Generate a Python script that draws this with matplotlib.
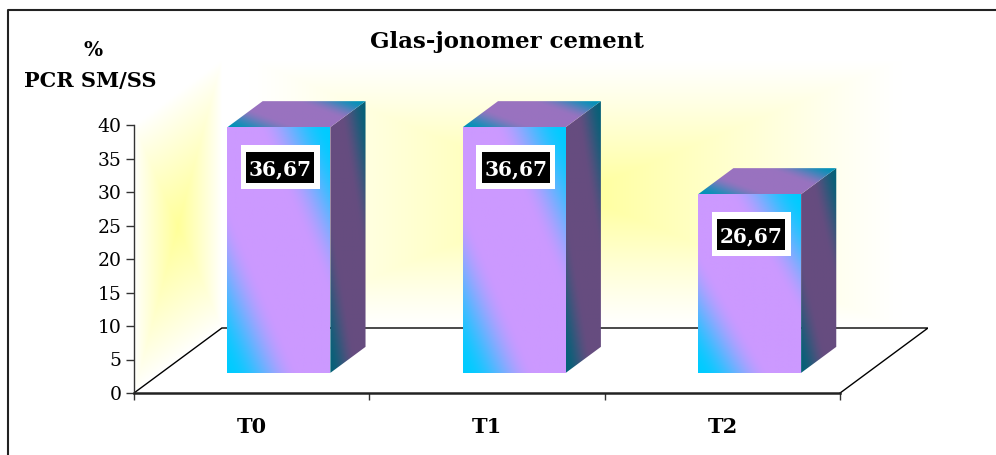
import numpy as np
import matplotlib
matplotlib.use("Agg")
import matplotlib.pyplot as plt
from matplotlib.patches import Polygon, Rectangle
from matplotlib.lines import Line2D
from matplotlib.colors import to_rgb

# ---- data ----
categories = ["T0", "T1", "T2"]
values = [36.67, 36.67, 26.67]
y_ticks = [0, 5, 10, 15, 20, 25, 30, 35, 40]
title = "Glas-jonomer cement"
y_label_top = "%"
y_label = "PCR SM/SS"

SERIF = ["DejaVu Serif"]

# ---- 3D geometry (in data units) ----
PX_X = 707 / 3.0      # pixels per category
PX_Y = 268 / 40.0     # pixels per value unit
DX = 88 / PX_X        # floor depth, horizontal component
DY = 65 / PX_Y        # floor depth, vertical component
W = 103 / PX_X        # bar width
F1, F2 = 0.31, 0.71   # bar front / back depth fractions
WALL_H = 40.0

CYAN = np.array(to_rgb("#00CCFF"))
LAV = np.array(to_rgb("#CC99FF"))
YELLOW = np.array(to_rgb("#FFFF99"))
WHITE = np.ones(3)


def diag_mix(s, t, edge, mid):
    d = np.abs(s + t - 1.0)
    g = np.clip((d - 0.3) / 0.68, 0, 1)
    g = g * g * (3 - 2 * g)
    return mid[None, None, :] * (1 - g[..., None]) + edge[None, None, :] * g[..., None]


def grid(x0, x1, y0, y1, n=220):
    xs = np.linspace(x0, x1, n)
    ys = np.linspace(y0, y1, n)
    return np.meshgrid(xs, ys)


def put_image(ax, img, extent, poly, z):
    im = ax.imshow(img, extent=extent, origin="lower", aspect="auto",
                   interpolation="bilinear", zorder=z)
    clip = Polygon(poly, closed=True, transform=ax.transData)
    im.set_clip_path(clip)
    return im


fig = plt.figure(figsize=(9.96, 4.55), dpi=100)
fig.patch.set_facecolor("white")

ax = fig.add_axes([134 / 996, 62 / 455, 794 / 996, 333 / 455])
xmax = 3 + DX
ymax = DY + WALL_H
ax.set_facecolor("none")

# ---- walls with centred glow ----
X, Y = grid(DX, 3 + DX, DY, ymax)
u = (X - (DX + 1.5)) / 1.38
v = (Y - (DY + WALL_H / 2)) / (WALL_H / 2)
k = np.clip(1 - np.maximum(np.abs(u), np.abs(v)), 0, 1) ** 1.15
img = WHITE * (1 - k[..., None]) + YELLOW * k[..., None]
put_image(ax, img, [DX, 3 + DX, DY, ymax],
          [(DX, DY), (3 + DX, DY), (3 + DX, ymax), (DX, ymax)], 0)

X, Y = grid(0, DX, 0, ymax)
s = np.clip(X / DX, 0, 1)
t = (Y - s * DY) / WALL_H
k = np.clip(1 - np.maximum(np.abs(2 * s - 1), np.abs(2 * t - 1)), 0, 1) ** 0.9
img = WHITE * (1 - k[..., None]) + YELLOW * k[..., None]
put_image(ax, img, [0, DX, 0, ymax],
          [(0, 0), (DX, DY), (DX, ymax), (0, WALL_H)], 0)

# ---- floor ----
floor = [(0, 0), (3, 0), (3 + DX, DY), (DX, DY)]
ax.add_patch(Polygon(floor, closed=True, facecolor="white", edgecolor="none", zorder=1))
ax.plot([0, DX, 3 + DX, 3], [0, DY, DY, 0], color="black", lw=1.0, zorder=2,
        solid_joinstyle="miter")

# ---- bars ----
for i, val in enumerate(values):
    c = i + 0.5
    xl = c - W / 2 + F1 * DX
    xr = xl + W
    b = F1 * DY
    top = b + val
    ddx = (F2 - F1) * DX
    ddy = (F2 - F1) * DY

    # front face
    S, T = np.meshgrid(np.linspace(0, 1, 200), np.linspace(0, 1, 200))
    put_image(ax, diag_mix(S, T, CYAN, LAV), [xl, xr, b, top],
              [(xl, b), (xr, b), (xr, top), (xl, top)], 4)

    # side face
    X, Y = grid(xr, xr + ddx, b, top + ddy)
    s = np.clip((X - xr) / ddx, 0, 1)
    t = np.clip((Y - b - s * ddy) / val, 0, 1)
    side = [(xr, b), (xr + ddx, b + ddy), (xr + ddx, top + ddy), (xr, top)]
    put_image(ax, diag_mix(s, t, CYAN * 0.45 + 0.02, LAV * 0.5),
              [xr, xr + ddx, b, top + ddy], side, 4)

    # top face
    X, Y = grid(xl, xr + ddx, top, top + ddy)
    t = np.clip((Y - top) / ddy, 0, 1)
    s = np.clip((X - xl - t * ddx) / W, 0, 1)
    lid = [(xl, top), (xr, top), (xr + ddx, top + ddy), (xl + ddx, top + ddy)]
    put_image(ax, diag_mix(s, t, CYAN * 0.72, LAV * 0.75),
              [xl, xr + ddx, top, top + ddy], lid, 4)

    # value label: white frame with black plate
    label = f"{val:.2f}".replace(".", ",")
    lx, ly = (xl + xr) / 2 + 1.5 / PX_X, top - 40 / PX_Y
    ow, oh = 79 / PX_X, 44 / PX_Y
    iw, ih = 68 / PX_X, 31 / PX_Y
    ax.add_patch(Rectangle((lx - ow / 2, ly - oh / 2), ow, oh,
                           facecolor="white", edgecolor="none", zorder=8))
    ax.add_patch(Rectangle((lx - iw / 2, ly - ih / 2), iw, ih,
                           facecolor="black", edgecolor="none", zorder=9))
    ax.text(lx, ly, label, ha="center", va="center_baseline", color="white",
            fontsize=14.5, fontweight="bold", family=SERIF, zorder=10)

ax.set_xlim(0, xmax)
ax.set_ylim(0, ymax)

# ---- axes ----
for side_name in ("top", "right"):
    ax.spines[side_name].set_visible(False)
ax.spines["left"].set_bounds(0, 40)
ax.spines["left"].set_color("#333333")
ax.spines["left"].set_linewidth(1.0)
ax.spines["bottom"].set_bounds(0, 3)
ax.spines["bottom"].set_color("#222222")
ax.spines["bottom"].set_linewidth(1.8)
ax.spines["left"].set_zorder(3)
ax.spines["bottom"].set_zorder(3)

ax.set_yticks(y_ticks)
ax.set_yticklabels([str(v) for v in y_ticks], family=SERIF, fontsize=13.5)
ax.tick_params(axis="y", direction="out", length=6, width=1, color="#333333", pad=3)

ax.set_xticks([0, 1, 2, 3])
ax.set_xticklabels([])
ax.set_xticks([0.5, 1.5, 2.5], minor=True)
ax.set_xticklabels(categories, minor=True, family=SERIF, fontsize=15, fontweight="bold")
ax.tick_params(axis="x", which="major", direction="out", length=5, width=1, color="#333333")
ax.tick_params(axis="x", which="minor", length=0, pad=17)

# ---- titles ----
fig.text(507 / 996, 1 - 42 / 455, title, ha="center", va="center",
         fontsize=16.5, fontweight="bold", family=SERIF)
fig.text(93 / 996, 1 - 50 / 455, y_label_top, ha="center", va="center",
         fontsize=14.5, fontweight="bold", family=SERIF)
fig.text(90 / 996, 1 - 81 / 455, y_label, ha="center", va="center",
         fontsize=15, fontweight="bold", family=SERIF)

# ---- frame ----
fig.add_artist(Line2D([8 / 996, 8 / 996, 1.0], [0.0, 1 - 10 / 455, 1 - 10 / 455],
                      color="#222222", lw=1.5, transform=fig.transFigure))

fig.savefig("out.png", dpi=100, facecolor="white")
